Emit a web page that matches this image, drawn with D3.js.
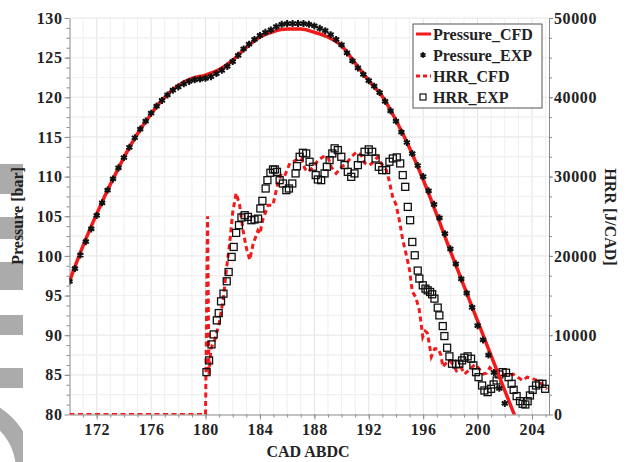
<!DOCTYPE html>
<html>
<head>
<meta charset="utf-8">
<script src="https://cdn.jsdelivr.net/npm/d3@7"></script>
<style>
  body { margin: 0; background: #fff; }
  svg { display: block; }
  text { font-family: "Liberation Serif", "DejaVu Serif", serif; font-weight: bold; fill: #222; }
</style>
</head>
<body>
<div id="chart"></div>
<script>
const width = 630;
const height = 462;

// pressure, CFD (solid red)
const pCfdCad = [170, 171, 172, 173, 174, 175, 176, 177, 178, 179, 180, 180.5, 181, 182, 183, 184, 185, 186, 187, 188, 189, 190, 191, 192, 193, 194, 195, 196, 197, 198, 199, 200, 201, 202, 203];
const pCfd = [96.8, 101.3, 105.3, 109.0, 112.4, 115.4, 117.9, 120.0, 121.5, 122.4, 122.8, 123.1, 123.5, 124.7, 126.3, 127.6, 128.3, 128.6, 128.6, 128.2, 127.6, 126.5, 124.3, 122.1, 120.1, 117.1, 113.6, 109.6, 105.2, 100.6, 96.2, 91.8, 87.4, 83.0, 78.7];

// pressure, experiment (stars)
const pExpCad = [170.0, 170.4, 170.8, 171.2, 171.6, 172.0, 172.4, 172.8, 173.2, 173.6, 174.0, 174.4, 174.8, 175.2, 175.6, 176.0, 176.4, 176.8, 177.2, 177.6, 178.0, 178.4, 178.8, 179.2, 179.6, 180.0, 180.4, 180.8, 181.2, 181.6, 182.0, 182.4, 182.8, 183.2, 183.6, 184.0, 184.4, 184.8, 185.2, 185.6, 186.0, 186.4, 186.8, 187.2, 187.6, 188.0, 188.4, 188.8, 189.2, 189.6, 190.0, 190.4, 190.8, 191.2, 191.6, 192.0, 192.4, 192.8, 193.2, 193.6, 194.0, 194.4, 194.8, 195.2, 195.6, 196.0, 196.4, 196.8, 197.2, 197.6, 198.0, 198.4, 198.8, 199.2, 199.6, 200.0, 200.4, 200.8, 201.2, 201.6, 202.0];
const pExp = [96.8, 98.4, 100.1, 101.8, 103.4, 105.1, 106.7, 108.3, 109.7, 111.1, 112.4, 113.7, 114.9, 116.0, 117.0, 118.0, 118.9, 119.6, 120.3, 120.9, 121.3, 121.7, 122.0, 122.2, 122.3, 122.4, 122.6, 123.0, 123.4, 123.9, 124.5, 125.3, 126.1, 126.7, 127.3, 127.8, 128.2, 128.5, 128.9, 129.2, 129.3, 129.3, 129.3, 129.3, 129.2, 129.0, 128.7, 128.4, 127.9, 127.3, 126.6, 125.6, 124.6, 123.7, 122.9, 122.1, 121.4, 120.6, 119.5, 118.3, 117.0, 115.6, 114.3, 112.9, 111.4, 110.0, 108.2, 106.5, 104.8, 102.8, 100.9, 99.0, 97.1, 95.3, 93.5, 91.2, 89.4, 87.5, 85.3, 83.3, 81.4];

// heat release rate, CFD (dashed red)
const hCfdCad = [170, 180.0, 180.15, 180.25, 180.4, 180.7, 181.0, 181.3, 181.55, 181.8, 182.0, 182.25, 182.5, 182.75, 183.0, 183.25, 183.5, 183.85, 184.0, 184.2, 184.6, 184.95, 185.3, 185.55, 185.8, 186.2, 186.7, 187.05, 187.3, 187.55, 187.9, 188.3, 188.65, 189.0, 189.25, 189.6, 190.0, 190.35, 190.85, 191.1, 191.45, 191.7, 192.05, 192.4, 192.65, 192.9, 193.3, 193.5, 193.75, 194.0, 194.25, 194.5, 194.75, 195.0, 195.2, 195.45, 195.7, 195.85, 195.97, 196.15, 196.3, 196.45, 196.6, 196.85, 197.1, 197.3, 197.45, 197.7, 197.95, 198.2, 198.45, 198.8, 199.05, 199.3, 199.55, 199.8, 200.05, 200.4, 200.65, 200.9, 201.15, 201.5, 201.85, 202.2, 202.6, 202.95, 203.3, 203.65, 204.05, 204.4, 204.8, 205.1];
const hCfd = [0, 0, 25000, 5000, 8300, 9500, 11500, 14500, 18500, 22000, 25500, 27900, 26500, 23300, 21000, 19500, 21500, 23200, 22800, 24500, 26400, 26400, 29000, 30200, 30000, 31700, 32100, 32300, 31000, 30600, 31200, 32100, 32500, 32500, 31200, 30400, 31200, 31700, 32700, 33100, 32700, 31700, 31450, 31900, 32500, 31700, 30800, 29500, 27500, 26500, 24500, 22000, 20200, 18200, 15500, 14800, 13300, 11500, 9800, 10500, 10300, 8900, 7300, 8300, 8300, 7500, 6000, 6500, 6800, 6300, 5500, 5900, 5100, 5500, 5900, 6300, 5900, 5100, 5200, 5900, 5500, 5500, 5100, 4900, 5100, 4700, 4300, 4700, 4500, 4300, 3700, 3200];

// heat release rate, experiment (squares)
const hExpCad = [180.07, 180.26, 180.44, 180.6, 180.83, 180.97, 181.14, 181.32, 181.56, 181.7, 181.92, 182.07, 182.25, 182.46, 182.64, 182.88, 183.12, 183.37, 183.6, 183.86, 184.03, 184.18, 184.42, 184.55, 184.77, 184.96, 185.1, 185.25, 185.45, 185.69, 185.94, 186.13, 186.38, 186.62, 186.72, 186.92, 187.16, 187.4, 187.65, 187.9, 188.1, 188.26, 188.5, 188.75, 188.92, 189.12, 189.32, 189.49, 189.73, 189.98, 190.22, 190.46, 190.71, 190.95, 191.2, 191.45, 191.69, 192.0, 192.25, 192.5, 192.74, 192.99, 193.28, 193.52, 193.77, 194.06, 194.31, 194.5, 194.68, 194.87, 195.04, 195.2, 195.38, 195.6, 195.72, 195.97, 196.17, 196.33, 196.51, 196.66, 196.83, 197.07, 197.19, 197.44, 197.56, 197.76, 197.93, 198.12, 198.42, 198.66, 198.86, 199.03, 199.27, 199.52, 199.69, 199.89, 200.07, 200.33, 200.5, 200.74, 200.99, 201.18, 201.4, 201.6, 201.84, 202.09, 202.28, 202.5, 202.65, 202.87, 203.12, 203.31, 203.51, 203.68, 203.85, 204.05, 204.3, 204.53, 204.77, 204.97];
const hExp = [5340, 6820, 8840, 10100, 11870, 12790, 14270, 15240, 16800, 17970, 19870, 21130, 22900, 23870, 24840, 25130, 24920, 24500, 24590, 24700, 25980, 26940, 28500, 29550, 30480, 30900, 30900, 30600, 29550, 29130, 28290, 28500, 29130, 30400, 31320, 32500, 33000, 32920, 31870, 31240, 30190, 29640, 29550, 30400, 31240, 32080, 32920, 33560, 33340, 32500, 31450, 30600, 29970, 30400, 31450, 32290, 33130, 33430, 33130, 32290, 31240, 30820, 30820, 31870, 32290, 32420, 31660, 30190, 28710, 26180, 24500, 21760, 20080, 18150, 17140, 16290, 15870, 15660, 15450, 15160, 14610, 13480, 12500, 11150, 9890, 8420, 7330, 6400, 6320, 6400, 6820, 7160, 7330, 7030, 6190, 5340, 4710, 3660, 3030, 2820, 3240, 3790, 4290, 5050, 5340, 5270, 4710, 3870, 3110, 2320, 1680, 1350, 1260, 1680, 2400, 3110, 3660, 3870, 3870, 3240];

const xTicks = [172, 176, 180, 184, 188, 192, 196, 200, 204];
const pTicks = [80, 85, 90, 95, 100, 105, 110, 115, 120, 125, 130];
const hTicks = [0, 10000, 20000, 30000, 40000, 50000];
const legendLabels = ["Pressure_CFD", "Pressure_EXP", "HRR_CFD", "HRR_EXP"];

const plotL = 69.5, plotR = 549, plotT = 18, plotB = 414.5;

const x = d3.scaleLinear().domain([170, 205.25]).range([plotL, plotR]);
const yP = d3.scaleLinear().domain([80, 130]).range([plotB, plotT]);
const yH = d3.scaleLinear().domain([0, 50000]).range([plotB, plotT]);

const svg = d3.select("#chart")
    .append("svg")
    .attr("width", width)
    .attr("height", height);

// grey watermark strip on the left edge
const mark = svg.append("g").attr("fill", "#ababab");
svg.append("clipPath").attr("id", "strip")
    .append("rect").attr("x", 0).attr("y", 0).attr("width", 23).attr("height", height);
[[164, 194], [217, 239], [262, 290], [315, 335], [368, 388]].forEach(r => {
    mark.append("rect").attr("x", 0).attr("y", r[0]).attr("width", 23).attr("height", r[1] - r[0]);
});
mark.append("g")
    .attr("clip-path", "url(#strip)")
    .append("path")
    .attr("d", d3.arc()({ innerRadius: 56, outerRadius: 74, startAngle: 0, endAngle: 2 * Math.PI }))
    .attr("transform", "translate(-40,470)");

// grid
const grid = svg.append("g");
grid.selectAll(".gx")
    .data(d3.range(171, 206))
    .enter().append("line")
    .attr("x1", d => x(d)).attr("x2", d => x(d))
    .attr("y1", plotT).attr("y2", plotB)
    .attr("stroke", d => d % 4 === 0 ? "#e2e2e2" : "#efefef")
    .attr("stroke-width", 1);
grid.selectAll(".gp")
    .data(d3.range(82.5, 130.1, 2.5))
    .enter().append("line")
    .attr("x1", plotL).attr("x2", plotR)
    .attr("y1", d => yP(d)).attr("y2", d => yP(d))
    .attr("stroke", d => d % 5 === 0 ? "#e2e2e2" : "#efefef");
grid.selectAll(".gh")
    .data(d3.range(2500, 50001, 2500))
    .enter().append("line")
    .attr("x1", plotL).attr("x2", plotR)
    .attr("y1", d => yH(d)).attr("y2", d => yH(d))
    .attr("stroke", "#f1f1f1");

// axes
const axisColor = "#8a8a8a";
function styleAxis(g) {
    g.select(".domain").attr("stroke", axisColor).attr("stroke-width", 1);
    g.selectAll(".tick line").attr("stroke", axisColor);
    g.selectAll(".tick text")
        .style("font-family", '"Liberation Serif", serif')
        .style("font-weight", "bold")
        .style("font-size", "16px")
        .style("letter-spacing", "0.6px")
        .attr("fill", "#222");
}

// minor ticks
svg.append("g").attr("transform", `translate(0,${plotB})`)
    .call(d3.axisBottom(x).tickValues(d3.range(171, 206)).tickSize(3).tickFormat(""))
    .call(g => g.select(".domain").remove())
    .selectAll("line").attr("stroke", axisColor);
svg.append("g").attr("transform", `translate(${plotL},0)`)
    .call(d3.axisLeft(yP).tickValues(d3.range(81.25, 130, 1.25)).tickSize(3).tickFormat(""))
    .call(g => g.select(".domain").remove())
    .selectAll("line").attr("stroke", axisColor);
svg.append("g").attr("transform", `translate(${plotR},0)`)
    .call(d3.axisRight(yH).tickValues(d3.range(2500, 50000, 2500)).tickSize(3).tickFormat(""))
    .call(g => g.select(".domain").remove())
    .selectAll("line").attr("stroke", axisColor);

svg.append("g").attr("transform", `translate(0,${plotB})`)
    .call(d3.axisBottom(x).tickValues(xTicks).tickSize(5).tickSizeOuter(0).tickPadding(4))
    .call(styleAxis);
svg.append("g").attr("transform", `translate(${plotL},0)`)
    .call(d3.axisLeft(yP).tickValues(pTicks).tickSize(5).tickSizeOuter(0).tickPadding(2))
    .call(styleAxis);
svg.append("g").attr("transform", `translate(${plotR},0)`)
    .call(d3.axisRight(yH).tickValues(hTicks).tickFormat(d3.format("d")).tickSize(4).tickSizeOuter(0).tickPadding(1))
    .call(styleAxis);

// axis titles
svg.append("text")
    .attr("x", 308).attr("y", 457)
    .attr("text-anchor", "middle")
    .style("font-size", "16px")
    .text("CAD ABDC");
svg.append("text")
    .attr("transform", "translate(23,216) rotate(-90)")
    .attr("text-anchor", "middle")
    .style("font-size", "16px")
    .text("Pressure [bar]");
svg.append("text")
    .attr("transform", "translate(605,217) rotate(90)")
    .attr("text-anchor", "middle")
    .style("font-size", "16px")
    .text("HRR [J/CAD]");

// plot
svg.append("clipPath").attr("id", "plot")
    .append("rect").attr("x", plotL).attr("y", plotT - 6).attr("width", plotR - plotL).attr("height", plotB - plotT + 6);
const plot = svg.append("g").attr("clip-path", "url(#plot)");

const hLine = d3.line().x(d => x(d[0])).y(d => yH(d[1]));
plot.append("path")
    .datum(d3.zip(hCfdCad, hCfd))
    .attr("d", hLine)
    .attr("fill", "none")
    .attr("stroke", "#f21a1a")
    .attr("stroke-width", 3)
    .attr("stroke-dasharray", "5,3.5");

plot.selectAll(".sq")
    .data(d3.zip(hExpCad, hExp))
    .enter().append("rect")
    .attr("x", d => x(d[0]) - 3.5)
    .attr("y", d => yH(d[1]) - 3.5)
    .attr("width", 7).attr("height", 7)
    .attr("fill", "none")
    .attr("stroke", "#111")
    .attr("stroke-width", 1.3);

const pLine = d3.line().curve(d3.curveMonotoneX).x(d => x(d[0])).y(d => yP(d[1]));
plot.append("path")
    .datum(d3.zip(pCfdCad, pCfd))
    .attr("d", pLine)
    .attr("fill", "none")
    .attr("stroke", "#f21a1a")
    .attr("stroke-width", 3.5);

const star = d3.symbol().type(d3.symbolAsterisk).size(34);
plot.selectAll(".st")
    .data(d3.zip(pExpCad, pExp))
    .enter().append("path")
    .attr("d", star)
    .attr("transform", d => `translate(${x(d[0])},${yP(d[1])})`)
    .attr("fill", "none")
    .attr("stroke", "#111")
    .attr("stroke-width", 2);

// legend
const lg = svg.append("g").attr("transform", "translate(413,24)");
lg.append("rect")
    .attr("width", 129).attr("height", 84)
    .attr("fill", "#fff")
    .attr("stroke", "#555")
    .attr("stroke-width", 1);
legendLabels.forEach((name, i) => {
    const cy = 10 + i * 21;
    lg.append("text")
        .attr("x", 20).attr("y", cy + 5.5)
        .style("font-size", "16px")
        .text(name);
});
lg.append("line").attr("x1", 3).attr("x2", 18).attr("y1", 10).attr("y2", 10)
    .attr("stroke", "#f21a1a").attr("stroke-width", 3);
lg.append("path").attr("d", d3.symbol().type(d3.symbolAsterisk).size(24))
    .attr("transform", "translate(10,31)")
    .attr("stroke", "#111").attr("stroke-width", 1.6);
lg.append("line").attr("x1", 3).attr("x2", 18).attr("y1", 52).attr("y2", 52)
    .attr("stroke", "#f21a1a").attr("stroke-width", 3).attr("stroke-dasharray", "4,3");
lg.append("rect").attr("x", 7).attr("y", 70).attr("width", 6).attr("height", 6)
    .attr("fill", "none").attr("stroke", "#111").attr("stroke-width", 1.2);
</script>
</body>
</html>
